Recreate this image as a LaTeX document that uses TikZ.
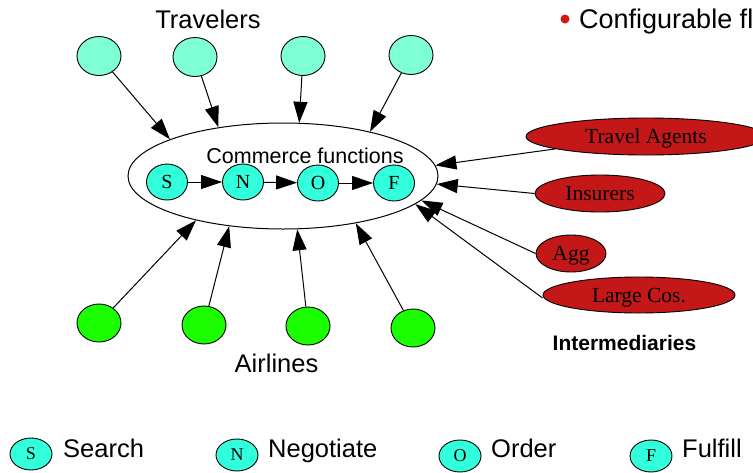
\documentclass[tikz,border=0pt]{standalone}
\usepackage{fontspec}
\setmainfont{Liberation Serif}
\setsansfont{Liberation Sans}
\usetikzlibrary{shapes.geometric,arrows.meta}

\definecolor{travcol}{RGB}{127,255,212}
\definecolor{funccol}{RGB}{50,255,220}
\definecolor{aircol}{RGB}{28,255,0}
\definecolor{intcol}{RGB}{196,24,24}
\definecolor{bulletred}{RGB}{214,22,22}

\tikzset{
  blob/.style={ellipse, draw, line width=0.9pt, inner sep=0pt},
  travnode/.style={blob, fill=travcol, minimum width=44pt, minimum height=39pt},
  airnode/.style={blob, fill=aircol, minimum width=44pt, minimum height=38pt},
  funcnode/.style={blob, fill=funccol, minimum width=41pt, minimum height=36pt,
    font=\fontsize{20}{20}\selectfont, text height=13pt, text depth=0pt},
  legnode/.style={blob, fill=funccol, minimum width=42pt, minimum height=32pt,
    font=\fontsize{18}{18}\selectfont, text height=11.8pt, text depth=0pt},
  intnode/.style={blob, fill=intcol, minimum height=37pt,
    font=\fontsize{21.5}{22}\selectfont, text height=14.6pt, text depth=0pt},
  lbl/.style={inner sep=0pt, font=\sffamily\fontsize{25.5}{26}\selectfont},
  arr/.style={-{Triangle[length=21pt,width=14pt]}, line width=1pt},
}

\begin{document}
\begin{tikzpicture}[x=1pt,y=-1pt]
\useasboundingbox (0,0) rectangle (753,472);
\clip (0,0) rectangle (753,472);

% commerce functions container
\node[ellipse, draw, line width=1pt, minimum width=310pt, minimum height=106pt] (ce) at (283,176) {};
\node[anchor=base, inner sep=0pt, font=\sffamily\fontsize{21.5}{22}\selectfont] (cftitle) at (305,163) {Commerce functions};

% functions chain
\node[funcnode] (s) at (167,182) {S};
\node[funcnode] (n) at (243,182) {N};
\node[funcnode] (o) at (318,183) {O};
\node[funcnode] (f) at (394,183) {F};
\draw[arr] (s) -- (n);
\draw[arr] (n) -- (o);
\draw[arr] (o) -- (f);

% travelers
\node[lbl, anchor=base] (travlbl) at (208,28) {Travelers};
\node[travnode] (t1) at (99,56) {};
\node[travnode] (t2) at (195,57) {};
\node[travnode] (t3) at (303,56) {};
\node[travnode] (t4) at (411,55) {};
\draw[arr] (t1) -- (ce.162);
\draw[arr] (t2) -- (ce.143);
\draw[arr] (t3) -- (ce.73);
\draw[arr] (t4) -- (ce.27);

% airlines
\node[airnode] (a1) at (99,323) {};
\node[airnode] (a2) at (204,325) {};
\node[airnode] (a3) at (308,326) {};
\node[airnode] (a4) at (413,328) {};
\node[lbl, anchor=base] (airlbl) at (276.5,372) {Airlines};
\draw[arr] (a1) -- (ce.207);
\draw[arr] (a2) -- (ce.223);
\draw[arr] (a3) -- (ce.285);
\draw[arr] (a4) -- (ce.327);

% intermediaries
\node[intnode, minimum width=240pt] (ta) at (646,136.5) {Travel Agents};
\node[intnode, minimum width=130pt] (ins) at (600,193.5) {Insurers};
\node[intnode, minimum width=70pt] (agg) at (571,253.5) {Agg};
\node[intnode, minimum width=192pt, minimum height=36pt] (lc) at (639,295) {Large Cos.};
\node[anchor=base, inner sep=0pt, font=\sffamily\bfseries\fontsize{21}{22}\selectfont] (intlbl) at (624.5,350) {Intermediaries};
\draw[arr] (ta) -- (ce.4);
\draw[arr] (ins.west) -- (ce.357);
\draw[arr] (agg.west) -- (ce.350);
\draw[arr] ([yshift=-3pt]lc.west) -- (ce.348);

% bullet heading
\node[circle, fill=bulletred, minimum size=9pt, inner sep=0pt] (bullet) at (565,19) {};
\node[anchor=base west, inner sep=0pt, font=\sffamily\fontsize{27}{28}\selectfont] (conf) at (579,28.3) {Configurable fl};

% legend
\node[legnode] (ls) at (31,454) {S};
\node[lbl, anchor=base west] (lst) at (63,457) {Search};
\node[legnode] (ln) at (237,455) {N};
\node[lbl, anchor=base west] (lnt) at (268,457) {Negotiate};
\node[legnode] (lo) at (460,456) {O};
\node[lbl, anchor=base west] (lot) at (491,457) {Order};
\node[legnode] (lf) at (651,456) {F};
\node[lbl, anchor=base west] (lft) at (682,457) {Fulfill};
\end{tikzpicture}
\end{document}
